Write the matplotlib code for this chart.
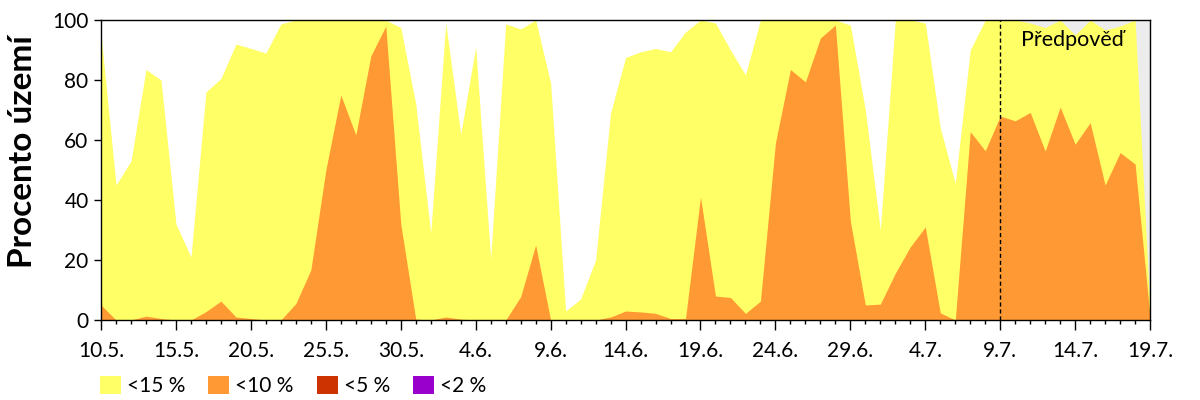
import matplotlib
matplotlib.use("Agg")
import matplotlib.pyplot as plt
from matplotlib.patches import Patch
import numpy as np

plt.rcParams["font.family"] = ["Lato", "DejaVu Sans"]

# days since 10.5. (0 .. 70 = 19.7.)
days = list(range(71))

# share of territory (%) per category
pct_15 = [95, 45, 53, 83.5, 80, 32, 21, 76, 80.5, 92,
          90.5, 89, 98.7, 100, 100, 100, 100, 100, 100, 100,
          97.5, 72, 29, 99, 62, 91, 20.5, 98.7, 97, 100,
          79, 3, 7, 20, 69, 87.5, 89.4, 90.5, 89.4, 96,
          100, 99, 90, 81.7, 100, 100, 100, 100, 100, 100,
          98.3, 70, 30, 100, 100, 99, 64, 45.6, 90, 100,
          100, 100, 99, 97.5, 100, 95, 100, 96.7, 98, 100,
          3]
pct_10 = [5, 0, 0, 1.3, 0.5, 0, 0, 2.8, 6.3, 1,
          0.5, 0, 0, 5.5, 16.7, 50, 75, 61.7, 88, 98,
          32, 0.3, 0, 1, 0.3, 0, 0, 0, 7.8, 25,
          0, 0, 0, 0, 1, 3, 2.7, 2.2, 0.5, 0.5,
          41, 8, 7.5, 2.2, 6.3, 59, 83.5, 79.4, 94, 98.3,
          33, 5, 5.3, 15.6, 24.4, 31, 2.4, 0, 62.8, 56.4,
          68, 66.4, 69.2, 56.3, 71, 58.6, 65.8, 45, 55.8, 52,
          1]
pct_5 = [0] * 71
pct_2 = [0] * 71

series_labels = ["<15 %", "<10 %", "<5 %", "<2 %"]
series_colors = ["#ffff66", "#ff9933", "#cc3300", "#9900cc"]

tick_days = [0, 5, 10, 15, 20, 25, 30, 35, 40, 45, 50, 55, 60, 65, 70]
tick_labels = ["10.5.", "15.5.", "20.5.", "25.5.", "30.5.", "4.6.", "9.6.", "14.6.",
               "19.6.", "24.6.", "29.6.", "4.7.", "9.7.", "14.7.", "19.7."]
forecast_start = 60

fig = plt.figure(figsize=(12, 4), dpi=100)
ax = fig.add_axes([0.0842, 0.2, 0.8742, 0.75])

ax.axvspan(forecast_start, days[-1], color="#ececec", lw=0, zorder=0)
for vals, col in zip([pct_15, pct_10, pct_5, pct_2], series_colors):
    ax.fill_between(days, 0, vals, color=col, lw=0, zorder=1)

ax.axvline(forecast_start, color="black", ls=(0, (3, 2)), lw=1, zorder=3)
ax.text(61.4, 93.3, "Předpověď", fontsize=15.5, va="center", ha="left", zorder=4)

ax.set_xlim(0, 70)
ax.set_ylim(0, 100)
ax.set_xticks(tick_days)
ax.set_xticklabels(tick_labels, fontsize=15)
ax.set_xticks(days, minor=True)
ax.set_yticks([0, 20, 40, 60, 80, 100])
ax.tick_params(axis="y", labelsize=15, length=5, width=1, pad=4)
ax.tick_params(axis="x", which="major", length=7, width=1, pad=8)
ax.tick_params(axis="x", which="minor", length=3, width=1)
for sp in ax.spines.values():
    sp.set_linewidth(1)
    sp.set_zorder(5)
ax.set_ylabel("Procento území", fontsize=24, fontweight="bold", labelpad=11, y=0.56)

handles = [Patch(facecolor=c, edgecolor="none") for c in series_colors]
fig.legend(handles, series_labels, loc="center left", bbox_to_anchor=(0.0833, 0.035),
           ncol=4, frameon=False, fontsize=15, handlelength=1.0, handleheight=1.0,
           handletextpad=0.3, columnspacing=1.1, borderpad=0, borderaxespad=0)

fig.savefig("out.png", dpi=100)
